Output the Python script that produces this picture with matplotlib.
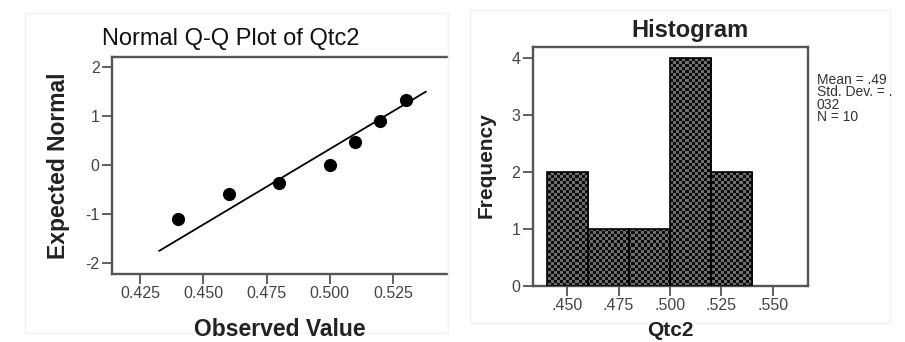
import numpy as np
import matplotlib
matplotlib.use('Agg')
import matplotlib.pyplot as plt
from matplotlib.colors import ListedColormap
from matplotlib.patches import Rectangle

plt.rcParams['font.family'] = ['Liberation Sans', 'DejaVu Sans']

# ---------------- data ----------------
observed = [0.440, 0.460, 0.480, 0.500, 0.510, 0.520, 0.530]
expected_normal = [-1.09, -0.60, -0.36, 0.00, 0.46, 0.90, 1.33]
line_x = [0.4326, 0.5379]
qtc2_mean = 0.4894
qtc2_sd = 0.0325

qq_xticks = [0.425, 0.450, 0.475, 0.500, 0.525]
qq_xticklabels = ['0.425', '0.450', '0.475', '0.500', '0.525']
qq_yticks = [-2, -1, 0, 1, 2]
qq_yticklabels = ['-2', '-1', '0', '1', '2']

bin_edges = [0.44, 0.46, 0.48, 0.50, 0.52, 0.54]
frequency = [2, 1, 1, 4, 2]
hist_xticks = [0.450, 0.475, 0.500, 0.525, 0.550]
hist_xticklabels = ['.450', '.475', '.500', '.525', '.550']
hist_yticks = [0, 1, 2, 3, 4]
stats_lines = ['Mean = .49', 'Std. Dev. = .', '032', 'N = 10']

W, H = 905, 342
fig = plt.figure(figsize=(W / 100, H / 100), dpi=100)

def fx(px):
    return px / W

def fy(py):
    return 1 - py / H

# faint panel frames
for (x0, y0, x1, y1) in [(25, 13, 448, 333), (470, 10, 890, 323)]:
    fig.patches.append(Rectangle((fx(x0), fy(y1)), fx(x1) - fx(x0), fy(y0) - fy(y1),
                                 transform=fig.transFigure, fill=False,
                                 edgecolor='#f2f2f2', lw=1.0))

spine_col = '#555555'
tick_lab_col = '#444444'

# ---------------- Q-Q plot ----------------
ax1 = fig.add_axes([fx(112), fy(274), fx(448) - fx(112), fy(57) - fy(274)])
ax1.scatter(observed, expected_normal, s=9.5 ** 2, c='black', zorder=3, linewidths=0)
line_y = [(x - qtc2_mean) / qtc2_sd for x in line_x]
ax1.plot(line_x, line_y, color='black', lw=1.3, zorder=2)
ax1.set_xlim(0.4139, 0.5467)
ax1.set_ylim(-2.22, 2.2)
ax1.set_xticks(qq_xticks)
ax1.set_xticklabels(qq_xticklabels)
ax1.set_yticks(qq_yticks)
ax1.set_yticklabels(qq_yticklabels)
ax1.spines['right'].set_visible(False)
for s in ['top', 'bottom', 'left']:
    ax1.spines[s].set_color(spine_col)
    ax1.spines[s].set_linewidth(1.7)
ax1.tick_params(direction='out', length=7, width=1.3, color=spine_col,
                labelsize=11.5, labelcolor=tick_lab_col, pad=2)

fig.text(fx(231), fy(45), 'Normal Q-Q Plot of Qtc2', ha='center', va='baseline',
         fontsize=17, color='#111111')
fig.text(fx(58), fy(166), 'Expected Normal', ha='center', va='center', rotation=90,
         fontsize=16.5, fontweight='bold', color='#222222')
fig.text(fx(280), fy(336), 'Observed Value', ha='center', va='baseline',
         fontsize=16.5, fontweight='bold', color='#222222')

# ---------------- Histogram ----------------
ax2 = fig.add_axes([fx(532.7), fy(285.7), fx(807.7) - fx(532.7), fy(46.7) - fy(285.7)])
xl = (0.4332, 0.567)
yl = (0, 4.19)
widths = np.diff(bin_edges)
bars = ax2.bar(bin_edges[:-1], frequency, width=widths, align='edge',
               facecolor='none', edgecolor='black', lw=1.2, zorder=3)
n_cols, n_rows = 92, 80
checker = np.add.outer(np.arange(n_rows), np.arange(n_cols)) % 2
cmap = ListedColormap(['#0c0c0c', '#6e6e6e'])
for b in bars:
    im = ax2.imshow(checker, cmap=cmap, extent=(xl[0], xl[1], yl[0], yl[1]),
                    aspect='auto', interpolation='nearest', origin='lower', zorder=2)
    im.set_clip_path(b)
ax2.set_xlim(*xl)
ax2.set_ylim(*yl)
ax2.set_xticks(hist_xticks)
ax2.set_xticklabels(hist_xticklabels)
ax2.set_yticks(hist_yticks)
for s in ax2.spines.values():
    s.set_color(spine_col)
    s.set_linewidth(1.7)
ax2.tick_params(direction='out', length=7, width=1.3, color=spine_col,
                labelsize=11.5, labelcolor=tick_lab_col, pad=2)

fig.text(fx(690), fy(37.5), 'Histogram', ha='center', va='baseline',
         fontsize=17, fontweight='bold', color='#222222')
fig.text(fx(486), fy(165), 'Frequency', ha='center', va='center', rotation=90,
         fontsize=15, fontweight='bold', color='#222222')
fig.text(fx(670), fy(336), 'Qtc2', ha='center', va='baseline',
         fontsize=15, fontweight='bold', color='#222222')
fig.text(fx(816.7), fy(73), '\n'.join(stats_lines), ha='left', va='top',
         fontsize=10, linespacing=0.85, color='#333333')

fig.savefig('out.png', dpi=100)
